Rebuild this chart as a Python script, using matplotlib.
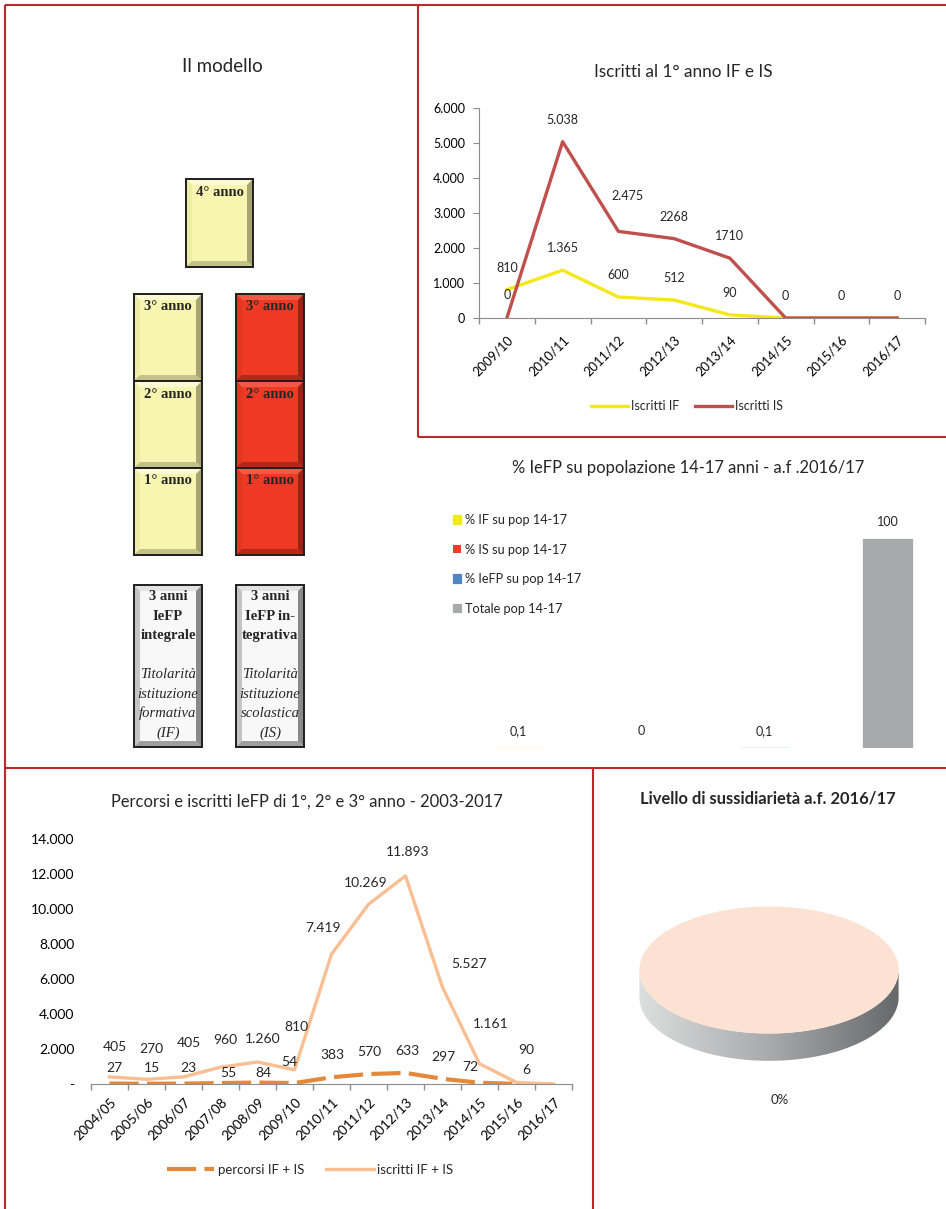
import numpy as np
import matplotlib
matplotlib.use("Agg")
import matplotlib.pyplot as plt
from matplotlib.patches import Rectangle, Polygon
from matplotlib.colors import LinearSegmentedColormap
from matplotlib.ticker import FuncFormatter

plt.rcParams["font.family"] = ["Lato", "DejaVu Sans"]
plt.rcParams["font.size"] = 9
plt.rcParams["text.color"] = "#262626"

W, H = 946, 1209
SERIF = ["Liberation Serif", "DejaVu Serif"]
GRIGIO = "#8C8C8C"
BORDO = "#C0272D"
PT = 72 / 100  # pixel -> punti

# --- Iscritti al 1° anno IF e IS ---
anni_1 = ["2009/10", "2010/11", "2011/12", "2012/13", "2013/14", "2014/15", "2015/16", "2016/17"]
iscritti_if = [810, 1365, 600, 512, 90, 0, 0, 0]
iscritti_is = [0, 5038, 2475, 2268, 1710, 0, 0, 0]
etich_if = ["810", "1.365", "600", "512", "90", "", "", ""]
etich_is = ["0", "5.038", "2.475", "2268", "1710", "0", "0", "0"]
off_if = [(0, 22)] * 8
off_is = [(0, 23), (0, 22), (9, 35), (0, 22), (0, 22), (0, 22), (0, 22), (0, 22)]

# --- % IeFP su popolazione 14-17 anni ---
quote_cat = ["% IF su pop 14-17", "% IS su pop 14-17", "% IeFP su pop 14-17", "Totale pop 14-17"]
quote_val = [0.1, 0, 0.1, 100]
quote_col = ["#F3E81A", "#EA3F28", "#4F86C6", "#A7A9AA"]

# --- Percorsi e iscritti IeFP ---
anni_2 = ["2004/05", "2005/06", "2006/07", "2007/08", "2008/09", "2009/10", "2010/11",
          "2011/12", "2012/13", "2013/14", "2014/15", "2015/16", "2016/17"]
percorsi = [27, 15, 23, 55, 84, 54, 383, 570, 633, 297, 72, 6, np.nan]
iscritti_tot = [405, 270, 405, 960, 1260, 810, 7419, 10269, 11893, 5527, 1161, 90, 0]
etich_perc = ["27", "15", "23", "55", "84", "54", "383", "570", "633", "297", "72", "6", ""]
etich_isc = ["405", "270", "405", "960", "1.260", "810", "7.419", "10.269", "11.893",
             "5.527", "1.161", "90", ""]
off_perc = [(5, 16), (5, 16), (5, 16), (8, 10), (6, 10), (-5, 21), (1, 22), (1, 22),
            (2, 22), (1, 22), (-9, 16), (10, 14), (0, 0)]
off_isc = [(5, 30), (5, 30), (5, 34), (5, 27), (5, 23), (2, 43), (-8, 26), (-3, 21),
           (2, 24), (27, 23), (11, 40), (10, 32), (0, 0)]

# --- Livello di sussidiarietà ---
sussidiarieta = [0, 100]


def px_axes(x0, y0, x1, y1):
    return fig.add_axes([x0 / W, 1 - y1 / H, (x1 - x0) / W, (y1 - y0) / H])


def ftext(x, y, s, **kw):
    fig.text(x / W, 1 - y / H, s, ha="center", va="center", **kw)


def migliaia(v, _=None):
    return f"{int(v):,}".replace(",", ".")


def etichette(ax, xs, vals, testi, offs, fs=9):
    for xi, v, s, (dx, dy) in zip(xs, vals, testi, offs):
        if s:
            ax.annotate(s, (xi, v), xytext=(dx * PT, dy * PT), textcoords="offset points",
                        ha="center", va="center", fontsize=fs)


def asse_categorie(ax, labels, pad, fs=9):
    n = len(labels)
    ax.set_xlim(-0.5, n - 0.5)
    ax.set_xticks(np.arange(n), labels, rotation=45, ha="right", rotation_mode="anchor")
    ax.set_xticks(np.arange(-0.5, n), minor=True)
    ax.tick_params(axis="x", which="major", length=0, pad=pad, labelsize=fs)
    ax.tick_params(axis="x", which="minor", length=4, color=GRIGIO, width=1)
    for s in ("top", "right"):
        ax.spines[s].set_visible(False)
    ax.spines["bottom"].set_color(GRIGIO)
    ax.set_facecolor("none")


def riquadro(ax, x0, y0, x1, y1, toni, b=6):
    face, alto, sx, basso, dx = toni
    ax.add_patch(Rectangle((x0, y0), x1 - x0, y1 - y0, facecolor=face, edgecolor="none"))
    ax.add_patch(Polygon([(x0, y0), (x1, y0), (x1 - b, y0 + b), (x0 + b, y0 + b)], facecolor=alto, edgecolor="none"))
    ax.add_patch(Polygon([(x0, y0), (x0 + b, y0 + b), (x0 + b, y1 - b), (x0, y1)], facecolor=sx, edgecolor="none"))
    ax.add_patch(Polygon([(x0, y1), (x0 + b, y1 - b), (x1 - b, y1 - b), (x1, y1)], facecolor=basso, edgecolor="none"))
    ax.add_patch(Polygon([(x1, y0), (x1, y1), (x1 - b, y1 - b), (x1 - b, y0 + b)], facecolor=dx, edgecolor="none"))
    ax.add_patch(Rectangle((x0, y0), x1 - x0, y1 - y0, fill=False, edgecolor="#1E1E1E", lw=1.4))


fig = plt.figure(figsize=(W / 100, H / 100), dpi=100)

# sfondo: cornici e schema del modello
bg = fig.add_axes([0, 0, 1, 1])
bg.set_xlim(0, W)
bg.set_ylim(H, 0)
bg.axis("off")
for (xa, ya), (xb, yb) in [((5, 5), (946, 5)), ((5, 5), (5, 1209)), ((418, 5), (418, 437)),
                           ((418, 437), (946, 437)), ((5, 768), (946, 768)), ((593, 768), (593, 1209))]:
    bg.plot([xa, xb], [ya, yb], color=BORDO, lw=1.5, solid_capstyle="butt")

GIALLO_T = ("#F7F5B0", "#FBFAD2", "#EEEDA8", "#C4C28A", "#A6A572")
ROSSO_T = ("#EE3A24", "#F25843", "#E3361F", "#B52818", "#9C2214")
GRIGIO_T = ("#F8F8F8", "#E2E2E2", "#C4C4C4", "#9E9E9E", "#8A8A8A")

ftext(222, 67, "Il modello", fontsize=13.5)
riquadro(bg, 186, 179, 253, 267, GIALLO_T)
bg.text(219.5, 192, "4° anno", ha="center", va="center", family=SERIF, weight="bold", fontsize=10.5)
for xc, toni in [(168, GIALLO_T), (270, ROSSO_T)]:
    for k, (y0, y1) in enumerate([(294, 381), (381, 468), (468, 555)]):
        riquadro(bg, xc - 34, y0, xc + 34, y1, toni)
        bg.text(xc, y0 + 13, f"{3 - k}° anno", ha="center", va="center", family=SERIF,
                weight="bold", fontsize=10.5)

righe = {168: ["3 anni", "IeFP", "integrale", "", "Titolarità", "istituzione", "formativa", "(IF)"],
         270: ["3 anni", "IeFP in-", "tegrativa", "", "Titolarità", "istituzione", "scolastica", "(IS)"]}
for xc, testo in righe.items():
    riquadro(bg, xc - 34, 585, xc + 34, 747, GRIGIO_T)
    for i, r in enumerate(testo):
        bg.text(xc, 597 + i * 19.4, r, ha="center", va="center", family=SERIF, fontsize=10.5,
                weight="bold" if i < 3 else "normal", style="normal" if i < 3 else "italic")

# --- grafico 1 ---
ftext(683, 72, "Iscritti al 1° anno IF e IS", fontsize=12.3)
ax1 = px_axes(479, 108, 925, 318)
x1 = np.arange(len(anni_1))
ax1.plot(x1, iscritti_if, color="#F3E81A", lw=2.4, label="Iscritti IF")
ax1.plot(x1, iscritti_is, color="#C0504D", lw=2.4, label="Iscritti IS")
etichette(ax1, x1, iscritti_if, etich_if, off_if)
etichette(ax1, x1, iscritti_is, etich_is, off_is)
asse_categorie(ax1, anni_1, pad=11, fs=9.3)
ax1.set_ylim(0, 6000)
ax1.set_yticks(np.arange(0, 6001, 1000))
ax1.yaxis.set_major_formatter(FuncFormatter(migliaia))
ax1.tick_params(axis="y", length=4, color=GRIGIO, pad=6, labelsize=9)
ax1.spines["left"].set_color(GRIGIO)
ax1.legend(loc="center", bbox_to_anchor=(687 / W, 1 - 406 / H), bbox_transform=fig.transFigure,
           ncol=2, frameon=False, handlelength=2.9, handletextpad=0.25, columnspacing=1.3, fontsize=9)

# --- grafico 2 ---
ftext(688, 468, "% IeFP su popolazione 14-17 anni - a.f .2016/17", fontsize=11.9)
ax2 = px_axes(457, 490, 946, 748)
for i, (cat, v, c) in enumerate(zip(quote_cat, quote_val, quote_col)):
    b = ax2.bar(i, v, width=0.4, color=c, edgecolor=c, linewidth=0.9 if v else 0, label=cat)
    ax2.bar_label(b, labels=[f"{v:g}".replace(".", ",")], padding=8, fontsize=9)
ax2.set_xlim(-0.5, -0.5 + 489 / 123)
ax2.set_ylim(0, 100 * 258 / 209)
ax2.axis("off")
ax2.legend(loc="upper left", bbox_to_anchor=(453 / W, 1 - 514 / H), bbox_transform=fig.transFigure,
           frameon=False, handlelength=0.65, handleheight=0.65, handletextpad=0.3,
           labelspacing=1.37, borderpad=0, borderaxespad=0, fontsize=9.2)

# --- grafico 3 ---
ftext(307, 802, "Percorsi e iscritti IeFP di 1°, 2° e 3° anno - 2003-2017", fontsize=11.9)
ax3 = px_axes(91, 839, 572, 1084)
x3 = np.arange(len(anni_2))
ax3.plot(x3, percorsi, color="#E4883A", lw=3, dashes=(7, 2), dash_capstyle="butt",
         label="percorsi IF + IS", zorder=3)
ax3.plot(x3, iscritti_tot, color="#F9BF93", lw=2.4, label="iscritti IF + IS", zorder=2)
etichette(ax3, x3, percorsi, etich_perc, off_perc, fs=10)
etichette(ax3, x3, iscritti_tot, etich_isc, off_isc, fs=10)
asse_categorie(ax3, anni_2, pad=8.5, fs=9.8)
ax3.set_ylim(0, 14000)
ax3.set_yticks(np.arange(0, 14001, 2000))
ax3.yaxis.set_major_formatter(FuncFormatter(lambda v, _: "-" if v == 0 else migliaia(v)))
ax3.tick_params(axis="y", length=0, pad=12, labelsize=10)
ax3.spines["left"].set_visible(False)
ax3.legend(loc="center", bbox_to_anchor=(310 / W, 1 - 1170 / H), bbox_transform=fig.transFigure,
           ncol=2, frameon=False, handlelength=3.6, handletextpad=0.25, columnspacing=1.7, fontsize=9.5)

# --- grafico 4 ---
ftext(768, 799, "Livello di sussidiarietà a.f. 2016/17", fontsize=11.9, weight="bold")
ax4 = px_axes(607, 880, 931, 1120)
ax4.pie(sussidiarieta, colors=["#E46C0A", "#FBE2D2"], startangle=90, counterclock=False,
        wedgeprops=dict(linewidth=0))
ax4.set_aspect("auto")
d = 0.43
t = np.linspace(np.pi, 2 * np.pi, 120)
lato = Polygon(np.column_stack([np.r_[np.cos(t), np.cos(t[::-1])],
                                np.r_[np.sin(t), np.sin(t[::-1]) - d]]),
               closed=True, facecolor="none", edgecolor="none")
ax4.add_patch(lato)
sfum = LinearSegmentedColormap.from_list("lato", ["#DDDFDF", "#A9AAAB", "#67686A"])
im = ax4.imshow(np.linspace(0, 1, 256)[None, :], cmap=sfum, extent=(-1, 1, -1 - d, 0),
                aspect="auto", zorder=0)
im.set_clip_path(lato)
ax4.text(0.085, -2.05, f"{sussidiarieta[0]}%", ha="center", va="center", fontsize=9.5)
ax4.set_xlim(-1.25, 1.25)
ax4.set_ylim(-2.362, 1.417)
ax4.axis("off")

fig.savefig("out.png", dpi=100)
